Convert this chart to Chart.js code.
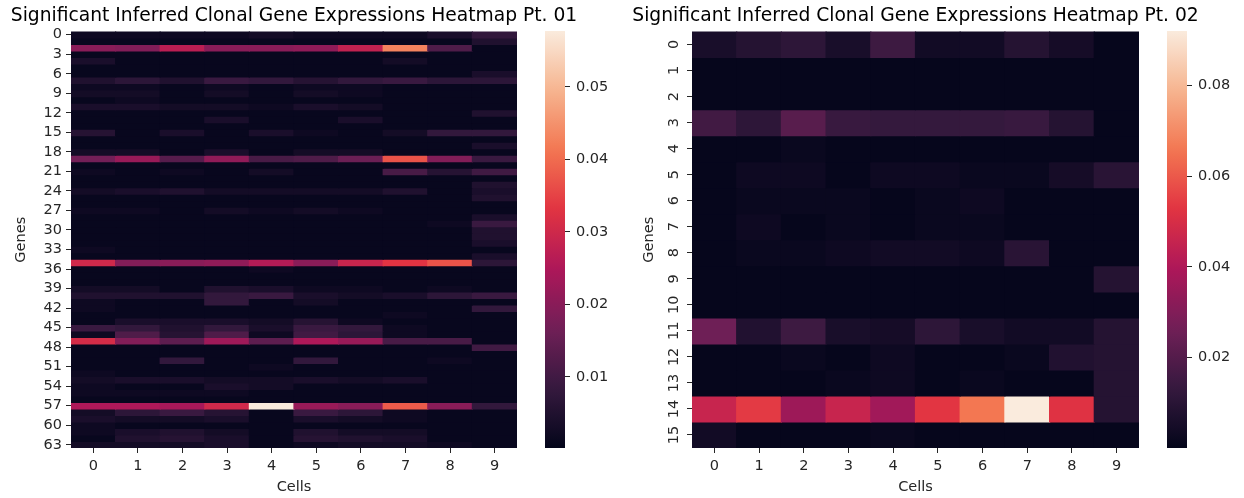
<!DOCTYPE html>
<html>
<head>
<meta charset="utf-8">
<script src="https://cdn.jsdelivr.net/npm/chart.js@4.4.1/dist/chart.umd.min.js"></script>
<style>
  body { margin: 0; background: #fff; width: 1244px; height: 498px; position: relative; overflow: hidden; }
  canvas { position: absolute; top: 0; }
</style>
</head>
<body>
<canvas id="heat1" style="left:0px" width="588" height="498"></canvas>
<canvas id="bar1" style="left:540px;z-index:2" width="80" height="498"></canvas>
<canvas id="heat2" style="left:632px" width="567" height="498"></canvas>
<canvas id="bar2" style="left:1162px;z-index:2" width="82" height="498"></canvas>
<script>
// cells on the x axis, shared by both heatmaps
const cells = ['0', '1', '2', '3', '4', '5', '6', '7', '8', '9'];

// which gene rows get a tick label
const leftTickRows = [0, 3, 6, 9, 12, 15, 18, 21, 24, 27, 30, 33, 36, 39, 42, 45, 48, 51, 54, 57, 60, 63];
const rightTickRows = [0, 1, 2, 3, 4, 5, 6, 7, 8, 9, 10, 11, 12, 13, 14, 15];

// colour ranges and colorbar ticks
const leftRange = [0.0002, 0.0577];
const rightRange = [0.0001, 0.092];
const leftBarTicks = [0.01, 0.02, 0.03, 0.04, 0.05];
const rightBarTicks = [0.02, 0.04, 0.06, 0.08];

// Pt. 01 : genes 0..63, cells 0..9
const leftValues = [
  [0.002, 0.002, 0.002, 0.002, 0.003, 0.002, 0.002, 0.002, 0.004, 0.008],
  [0.001, 0.001, 0.001, 0.001, 0.001, 0.001, 0.001, 0.001, 0.001, 0.005],
  [0.020, 0.019, 0.027, 0.020, 0.020, 0.021, 0.028, 0.043, 0.012, 0.001],
  [0.001, 0.001, 0.001, 0.001, 0.001, 0.001, 0.001, 0.001, 0.001, 0.001],
  [0.004, 0.001, 0.001, 0.001, 0.001, 0.001, 0.001, 0.003, 0.001, 0.001],
  [0.001, 0.001, 0.001, 0.001, 0.001, 0.001, 0.001, 0.001, 0.001, 0.001],
  [0.001, 0.001, 0.001, 0.001, 0.001, 0.001, 0.001, 0.001, 0.001, 0.004],
  [0.005, 0.007, 0.005, 0.009, 0.008, 0.006, 0.008, 0.009, 0.007, 0.007],
  [0.002, 0.002, 0.001, 0.002, 0.001, 0.002, 0.002, 0.001, 0.001, 0.001],
  [0.003, 0.003, 0.001, 0.003, 0.001, 0.003, 0.002, 0.001, 0.001, 0.001],
  [0.001, 0.002, 0.001, 0.001, 0.001, 0.001, 0.001, 0.001, 0.001, 0.001],
  [0.004, 0.004, 0.003, 0.003, 0.002, 0.004, 0.003, 0.001, 0.001, 0.001],
  [0.001, 0.001, 0.001, 0.001, 0.001, 0.001, 0.001, 0.001, 0.001, 0.005],
  [0.001, 0.001, 0.001, 0.004, 0.001, 0.001, 0.004, 0.001, 0.001, 0.001],
  [0.001, 0.001, 0.001, 0.001, 0.001, 0.001, 0.001, 0.001, 0.001, 0.001],
  [0.006, 0.001, 0.004, 0.001, 0.004, 0.002, 0.001, 0.003, 0.008, 0.008],
  [0.001, 0.001, 0.001, 0.001, 0.001, 0.001, 0.001, 0.001, 0.001, 0.001],
  [0.001, 0.001, 0.001, 0.001, 0.001, 0.001, 0.001, 0.001, 0.001, 0.004],
  [0.003, 0.003, 0.001, 0.004, 0.001, 0.003, 0.003, 0.001, 0.001, 0.001],
  [0.017, 0.022, 0.013, 0.021, 0.011, 0.012, 0.016, 0.037, 0.019, 0.009],
  [0.001, 0.001, 0.001, 0.001, 0.001, 0.001, 0.001, 0.001, 0.001, 0.001],
  [0.002, 0.001, 0.002, 0.001, 0.003, 0.001, 0.001, 0.011, 0.006, 0.010],
  [0.001, 0.001, 0.001, 0.001, 0.001, 0.001, 0.001, 0.001, 0.001, 0.001],
  [0.001, 0.001, 0.001, 0.001, 0.001, 0.001, 0.001, 0.001, 0.001, 0.005],
  [0.003, 0.004, 0.005, 0.003, 0.003, 0.003, 0.003, 0.005, 0.001, 0.004],
  [0.001, 0.001, 0.001, 0.001, 0.001, 0.001, 0.001, 0.001, 0.001, 0.005],
  [0.001, 0.001, 0.001, 0.001, 0.001, 0.001, 0.001, 0.001, 0.001, 0.001],
  [0.002, 0.002, 0.001, 0.003, 0.002, 0.003, 0.002, 0.001, 0.001, 0.001],
  [0.001, 0.001, 0.001, 0.001, 0.001, 0.001, 0.001, 0.001, 0.001, 0.004],
  [0.001, 0.001, 0.001, 0.001, 0.001, 0.001, 0.001, 0.001, 0.002, 0.009],
  [0.001, 0.001, 0.001, 0.001, 0.001, 0.001, 0.001, 0.001, 0.001, 0.005],
  [0.001, 0.001, 0.001, 0.001, 0.001, 0.001, 0.001, 0.001, 0.001, 0.005],
  [0.001, 0.001, 0.001, 0.001, 0.001, 0.001, 0.001, 0.001, 0.001, 0.004],
  [0.002, 0.001, 0.001, 0.001, 0.001, 0.001, 0.001, 0.001, 0.001, 0.001],
  [0.001, 0.001, 0.001, 0.001, 0.001, 0.001, 0.001, 0.001, 0.001, 0.004],
  [0.030, 0.019, 0.020, 0.021, 0.026, 0.020, 0.029, 0.033, 0.037, 0.007],
  [0.001, 0.001, 0.001, 0.001, 0.002, 0.001, 0.001, 0.001, 0.001, 0.001],
  [0.001, 0.001, 0.001, 0.001, 0.001, 0.001, 0.001, 0.001, 0.001, 0.001],
  [0.001, 0.001, 0.001, 0.001, 0.001, 0.001, 0.001, 0.001, 0.001, 0.001],
  [0.003, 0.003, 0.001, 0.005, 0.004, 0.002, 0.002, 0.001, 0.002, 0.001],
  [0.005, 0.005, 0.005, 0.008, 0.009, 0.004, 0.003, 0.004, 0.007, 0.009],
  [0.002, 0.001, 0.001, 0.008, 0.001, 0.003, 0.001, 0.001, 0.001, 0.001],
  [0.002, 0.001, 0.001, 0.001, 0.001, 0.001, 0.001, 0.001, 0.001, 0.008],
  [0.001, 0.001, 0.001, 0.001, 0.001, 0.001, 0.001, 0.002, 0.001, 0.001],
  [0.001, 0.004, 0.004, 0.004, 0.003, 0.006, 0.002, 0.001, 0.001, 0.001],
  [0.009, 0.008, 0.005, 0.008, 0.004, 0.009, 0.008, 0.002, 0.001, 0.001],
  [0.002, 0.012, 0.006, 0.012, 0.002, 0.010, 0.007, 0.002, 0.001, 0.001],
  [0.031, 0.019, 0.014, 0.023, 0.014, 0.025, 0.022, 0.011, 0.011, 0.001],
  [0.001, 0.001, 0.001, 0.001, 0.001, 0.001, 0.001, 0.001, 0.001, 0.010],
  [0.001, 0.001, 0.001, 0.001, 0.001, 0.001, 0.001, 0.001, 0.001, 0.001],
  [0.001, 0.001, 0.008, 0.001, 0.001, 0.008, 0.001, 0.001, 0.002, 0.001],
  [0.001, 0.001, 0.001, 0.001, 0.002, 0.001, 0.001, 0.001, 0.001, 0.001],
  [0.002, 0.001, 0.001, 0.001, 0.001, 0.001, 0.001, 0.001, 0.001, 0.001],
  [0.003, 0.004, 0.004, 0.003, 0.003, 0.004, 0.003, 0.004, 0.001, 0.001],
  [0.002, 0.001, 0.001, 0.004, 0.003, 0.001, 0.001, 0.001, 0.001, 0.001],
  [0.002, 0.002, 0.002, 0.002, 0.001, 0.001, 0.001, 0.001, 0.001, 0.001],
  [0.001, 0.001, 0.001, 0.001, 0.001, 0.001, 0.001, 0.001, 0.001, 0.001],
  [0.025, 0.025, 0.024, 0.030, 0.0577, 0.022, 0.020, 0.038, 0.020, 0.008],
  [0.003, 0.007, 0.009, 0.006, 0.001, 0.009, 0.007, 0.002, 0.001, 0.001],
  [0.004, 0.003, 0.003, 0.004, 0.001, 0.004, 0.003, 0.002, 0.001, 0.001],
  [0.002, 0.001, 0.001, 0.001, 0.001, 0.001, 0.001, 0.001, 0.001, 0.001],
  [0.002, 0.004, 0.005, 0.003, 0.001, 0.005, 0.003, 0.003, 0.001, 0.001],
  [0.001, 0.005, 0.006, 0.004, 0.001, 0.006, 0.005, 0.004, 0.001, 0.001],
  [0.003, 0.003, 0.003, 0.004, 0.001, 0.002, 0.003, 0.003, 0.002, 0.001]
];

// Pt. 02 : genes 0..15, cells 0..9
const rightValues = [
  [0.006, 0.009, 0.011, 0.006, 0.015, 0.004, 0.004, 0.009, 0.005, 0.001],
  [0.001, 0.001, 0.001, 0.001, 0.001, 0.001, 0.001, 0.001, 0.001, 0.001],
  [0.001, 0.001, 0.001, 0.001, 0.001, 0.001, 0.001, 0.001, 0.001, 0.001],
  [0.016, 0.011, 0.021, 0.014, 0.013, 0.013, 0.013, 0.014, 0.009, 0.001],
  [0.001, 0.001, 0.002, 0.001, 0.001, 0.001, 0.001, 0.001, 0.001, 0.001],
  [0.001, 0.003, 0.003, 0.001, 0.003, 0.003, 0.002, 0.002, 0.005, 0.010],
  [0.001, 0.002, 0.002, 0.002, 0.001, 0.002, 0.003, 0.001, 0.001, 0.001],
  [0.001, 0.003, 0.001, 0.002, 0.001, 0.002, 0.002, 0.001, 0.001, 0.001],
  [0.001, 0.002, 0.002, 0.003, 0.004, 0.004, 0.003, 0.010, 0.001, 0.001],
  [0.001, 0.001, 0.001, 0.001, 0.001, 0.001, 0.001, 0.001, 0.001, 0.009],
  [0.001, 0.001, 0.001, 0.001, 0.001, 0.001, 0.001, 0.001, 0.001, 0.001],
  [0.026, 0.008, 0.015, 0.006, 0.005, 0.011, 0.006, 0.004, 0.004, 0.009],
  [0.001, 0.001, 0.002, 0.001, 0.003, 0.001, 0.001, 0.002, 0.008, 0.009],
  [0.001, 0.001, 0.001, 0.002, 0.003, 0.001, 0.002, 0.001, 0.001, 0.009],
  [0.046, 0.054, 0.036, 0.046, 0.037, 0.053, 0.066, 0.092, 0.052, 0.009],
  [0.004, 0.001, 0.001, 0.001, 0.002, 0.001, 0.001, 0.001, 0.001, 0.001]
];

const FONT = '"DejaVu Sans", sans-serif';
const INK = '#262626';
const TICK_FONT = { family: FONT, size: 14.5 };

// seaborn "rocket" colormap, sampled
const rocketStops = [
  [0, [3, 5, 26]], [1 / 7, [53, 25, 62]], [2 / 7, [112, 31, 87]], [3 / 7, [173, 23, 89]],
  [4 / 7, [225, 51, 66]], [5 / 7, [243, 118, 81]], [6 / 7, [246, 180, 143]], [1, [250, 235, 221]]
];
function rocket(t) {
  t = Math.max(0, Math.min(1, t));
  for (let i = 1; i < rocketStops.length; i++) {
    const [t1, c1] = rocketStops[i];
    const [t0, c0] = rocketStops[i - 1];
    if (t <= t1) {
      const f = (t - t0) / (t1 - t0);
      const c = c0.map((v, k) => Math.round(v + (c1[k] - v) * f));
      return `rgb(${c[0]},${c[1]},${c[2]})`;
    }
  }
  return 'rgb(250,235,221)';
}

function drawHeatmap(id, title, values, tickRows, range, geo) {
  const datasets = values.map((row, r) => ({
    data: row.map(() => [r, r + 1]),
    backgroundColor: row.map(v => rocket((v - range[0]) / (range[1] - range[0]))),
    borderWidth: 0,
    inflateAmount: 0.6,
    barPercentage: 1,
    categoryPercentage: 1
  }));

  new Chart(document.getElementById(id), {
    type: 'bar',
    data: { labels: cells, datasets: datasets },
    options: {
      responsive: false,
      animation: false,
      events: [],
      layout: { padding: 0 },
      plugins: {
        legend: { display: false },
        tooltip: { enabled: false },
        title: {
          display: true, text: title, color: '#000',
          font: { family: FONT, size: 18.7, weight: 'normal' },
          padding: { top: 5, bottom: 4 }
        }
      },
      scales: {
        x: {
          stacked: true,
          grid: { offset: false, drawOnChartArea: false, tickLength: 5, color: INK },
          border: { display: false },
          ticks: { color: INK, padding: 5, font: TICK_FONT },
          title: { display: true, text: 'Cells', color: INK, font: TICK_FONT, padding: { top: 0, bottom: 2 } },
          afterFit: s => { s.height = 50; }
        },
        y: {
          type: 'linear',
          min: 0,
          max: values.length,
          reverse: true,
          afterBuildTicks: s => { s.ticks = tickRows.map(r => ({ value: r + 0.5 })); },
          grid: { drawOnChartArea: false, tickLength: 5, color: INK },
          border: { display: false },
          ticks: {
            color: INK, padding: 4, font: TICK_FONT, autoSkip: false,
            minRotation: geo.rot, maxRotation: geo.rot, crossAlign: geo.rot ? 'center' : 'near',
            callback: v => String(Math.floor(v))
          },
          title: { display: true, text: 'Genes', color: INK, font: TICK_FONT, padding: { top: geo.titlePad, bottom: 0 } },
          afterFit: s => { s.width = geo.axisWidth; }
        },
        // empty strip on the right so the title centres over the heatmap
        gap: {
          type: 'linear',
          position: 'right',
          grid: { display: false },
          border: { display: false },
          ticks: { display: false },
          afterFit: s => { s.width = geo.padRight; }
        }
      }
    }
  });
}

function drawColorbar(id, range, ticks, geo) {
  new Chart(document.getElementById(id), {
    type: 'bar',
    data: {
      labels: [''],
      datasets: [{
        data: [range],
        borderWidth: 0,
        barPercentage: 1,
        categoryPercentage: 1,
        backgroundColor: ctx => {
          const area = ctx.chart.chartArea;
          if (!area) return '#000';
          const g = ctx.chart.ctx.createLinearGradient(0, area.bottom, 0, area.top);
          for (let i = 0; i <= 40; i++) g.addColorStop(i / 40, rocket(i / 40));
          return g;
        }
      }]
    },
    options: {
      responsive: false,
      animation: false,
      events: [],
      layout: { padding: { left: geo.padLeft, right: 0, top: 31, bottom: 50 } },
      plugins: { legend: { display: false }, tooltip: { enabled: false } },
      scales: {
        x: { display: false },
        y: {
          position: 'right',
          min: range[0],
          max: range[1],
          afterBuildTicks: s => { s.ticks = ticks.map(v => ({ value: v })); },
          grid: { drawOnChartArea: false, tickLength: 5, color: INK },
          border: { display: false },
          ticks: { color: INK, padding: 6, font: TICK_FONT, callback: v => v.toFixed(2) },
          afterFit: s => { s.width = geo.axisWidth; }
        }
      }
    }
  });
}

drawHeatmap('heat1', 'Significant Inferred Clonal Gene Expressions Heatmap Pt. 01', leftValues, leftTickRows, leftRange,
  { padRight: 71, axisWidth: 71, rot: 0, titlePad: 13 });
drawColorbar('bar1', leftRange, leftBarTicks, { padLeft: 5, axisWidth: 55 });
drawHeatmap('heat2', 'Significant Inferred Clonal Gene Expressions Heatmap Pt. 02', rightValues, rightTickRows, rightRange,
  { padRight: 60, axisWidth: 60, rot: 90, titlePad: 9 });
drawColorbar('bar2', rightRange, rightBarTicks, { padLeft: 5, axisWidth: 57 });
</script>
</body>
</html>
